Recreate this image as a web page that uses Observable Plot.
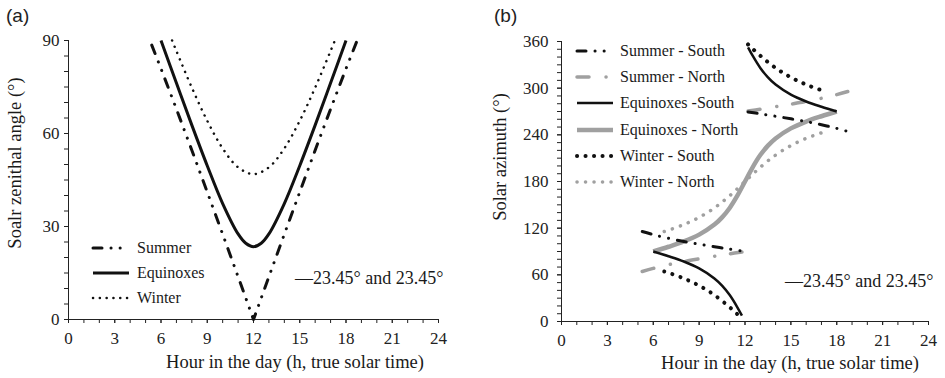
<!DOCTYPE html>
<html><head><meta charset="utf-8">
<script src="https://cdn.jsdelivr.net/npm/d3@7"></script>
<script src="https://cdn.jsdelivr.net/npm/@observablehq/plot@0.6"></script>
<style>
body{margin:0;background:#fff;}
#root{position:relative;width:945px;height:378px;overflow:hidden;font-family:"Liberation Serif","Times New Roman",serif;color:#1a1a1a;}
.abs{position:absolute;white-space:nowrap;line-height:1;}
svg{overflow:visible}
</style></head><body><div id="root"></div>
<script>
// ---------- Panel (a): solar zenithal angle ----------
const hoursSummerA = [5.4, 6, 7, 8, 9, 10, 11, 12, 13, 14, 15, 16, 17, 18, 18.7];
const zenithSummer = [88.5, 80.9, 67.9, 54.6, 41.1, 27.5, 13.8, 0, 13.8, 27.5, 41.1, 54.6, 67.9, 80.9, 89.7];
const hoursEquinoxA = [6, 7, 8, 9, 10, 11, 11.5, 12, 12.5, 13, 14, 15, 16, 17, 18];
const zenithEquinox = [90, 76.3, 62.7, 49.6, 37.4, 27.6, 24.6, 23.5, 24.6, 27.6, 37.4, 49.6, 62.7, 76.3, 90];
const hoursWinterA = [6.72, 7, 8, 9, 10, 11, 12, 13, 14, 15, 16, 17, 17.28];
const zenithWinter = [90, 86.6, 74.8, 64.1, 55.2, 49.1, 46.9, 49.1, 55.2, 64.1, 74.8, 86.6, 90];

// ---------- Panel (b): solar azimuth ----------
const hSumSouthAM = [5.28, 6, 7, 8, 9, 10, 11, 11.8];
const azSumSouthAM = [115.7, 111.7, 107.0, 102.9, 99.4, 96.1, 93.0, 90.6];
const hSumSouthPM = [12.2, 13, 14, 15, 16, 17, 18, 18.72];
const azSumSouthPM = [269.4, 267.0, 263.9, 260.6, 257.1, 253.0, 248.3, 244.3];

const hSumNorthAM = [5.28, 6, 7, 8, 9, 10, 11, 11.8];
const azSumNorthAM = [64.3, 68.3, 73.0, 77.1, 80.6, 83.9, 87.0, 89.4];
const hSumNorthPM = [12.2, 13, 14, 15, 16, 17, 18, 18.72];
const azSumNorthPM = [270.6, 273.0, 276.1, 279.4, 282.9, 287.0, 291.7, 295.7];

const hEqSouthAM = [6, 7, 8, 9, 10, 10.5, 11, 11.5, 11.8];
const azEqSouthAM = [90, 83.9, 77.1, 68.3, 55.4, 46.1, 34.0, 18.3, 7.5];
const hEqSouthPM = [12.2, 12.5, 13, 13.5, 14, 15, 16, 17, 18];
const azEqSouthPM = [352.5, 341.7, 326.0, 313.9, 304.6, 291.7, 282.9, 276.1, 270];

const hEqNorth = [6, 7, 8, 9, 10, 10.5, 11, 11.5, 12, 12.5, 13, 13.5, 14, 15, 16, 17, 18];
const azEqNorth = [90, 96.1, 102.9, 111.7, 124.6, 133.9, 146.0, 161.7, 180, 198.3, 214.0, 226.1, 235.4, 248.3, 257.1, 263.9, 270];

const hWinSouthAM = [6.72, 7, 8, 9, 10, 11, 11.5, 11.8];
const azWinSouthAM = [64.3, 62.6, 55.4, 46.1, 34.0, 18.3, 9.4, 3.8];
const hWinSouthPM = [12.2, 12.5, 13, 14, 15, 16, 17, 17.28];
const azWinSouthPM = [356.2, 350.6, 341.7, 326.0, 313.9, 304.6, 297.4, 295.7];

const hWinNorth = [6.72, 7, 8, 9, 10, 11, 12, 13, 14, 15, 16, 17, 17.28];
const azWinNorth = [115.7, 117.4, 124.6, 133.9, 146.0, 161.7, 180, 198.3, 214.0, 226.1, 235.4, 242.6, 244.3];

// ---------- Ticks & labels ----------
const xMajorTicks = [0, 3, 6, 9, 12, 15, 18, 21, 24];
const yMajorTicksA = [0, 30, 60, 90];
const yMajorTicksB = [0, 60, 120, 180, 240, 300, 360];
const xTitle = "Hour in the day (h, true solar time)";
const yTitleA = "Soalr zenithal angle (°)";
const yTitleB = "Solar azimuth (°)";
const noteText = "—23.45° and 23.45°";
const legendA = ["Summer", "Equinoxes", "Winter"];
const legendB = ["Summer - South", "Summer - North", "Equinoxes -South", "Equinoxes - North", "Winter - South", "Winter - North"];

// ---------- styles ----------
const BLACK = "#111", GRAY = "#a0a0a0";
const S = {
  summerA:   {stroke: BLACK, strokeWidth: 3,   strokeDasharray: "9,9,0.1,9,0.1,9", strokeLinecap: "round"},
  equinoxA:  {stroke: BLACK, strokeWidth: 3,   strokeDasharray: null, strokeLinecap: "butt"},
  winterA:   {stroke: BLACK, strokeWidth: 2.5, strokeDasharray: "0.1,6.7", strokeLinecap: "round"},
  sumSouth:  {stroke: BLACK, strokeWidth: 3,   strokeDasharray: "9,9,0.1,9,0.1,9", strokeLinecap: "round"},
  sumNorth:  {stroke: GRAY,  strokeWidth: 3.5, strokeDasharray: "12,17,0.1,16", strokeLinecap: "round"},
  eqSouth:   {stroke: BLACK, strokeWidth: 2.5, strokeDasharray: null, strokeLinecap: "butt"},
  eqNorth:   {stroke: GRAY,  strokeWidth: 4.5, strokeDasharray: null, strokeLinecap: "butt"},
  winSouth:  {stroke: BLACK, strokeWidth: 4,   strokeDasharray: "0.1,8.4", strokeLinecap: "round"},
  winNorth:  {stroke: GRAY,  strokeWidth: 3.5, strokeDasharray: "0.1,8.4", strokeLinecap: "round"}
};

const rows = (hs, vs) => hs.map((h, i) => ({h, v: vs[i]}));
const lineMark = (data, st, curve = "catmull-rom") => Plot.line(data, {x: "h", y: "v", curve, ...Object.fromEntries(Object.entries(st).filter(([k, v]) => v != null))});

const axisMarks = (yMajor, yMinorStep, yMax, padY) => [
  Plot.axisX({ticks: d3.range(0, 25, 1), tickSize: 4, tickFormat: () => "", label: null}),
  Plot.axisX({ticks: xMajorTicks, tickSize: 4, tickPadding: 8, label: null, fontSize: 17}),
  Plot.axisY({ticks: d3.range(0, yMax + 0.1, yMinorStep), tickSize: 4, tickFormat: () => "", label: null}),
  Plot.axisY({ticks: yMajor, tickSize: 4, tickPadding: padY, label: null, fontSize: 17}),
  Plot.ruleX([0], {stroke: "#222"}),
  Plot.ruleY([0], {stroke: "#222"})
];

const commonStyle = {fontFamily: "'Liberation Serif','Times New Roman',serif", fontSize: "17px", color: "#222", background: "transparent", overflow: "visible"};

const plotA = Plot.plot({
  width: 470, height: 378,
  marginLeft: 68, marginRight: 32, marginTop: 40, marginBottom: 59,
  x: {domain: [0, 24]}, y: {domain: [0, 90]},
  style: commonStyle,
  marks: [
    ...axisMarks(yMajorTicksA, 5, 90, 5),
    lineMark(rows(hoursWinterA, zenithWinter), S.winterA),
    lineMark(rows(hoursEquinoxA, zenithEquinox), S.equinoxA),
    lineMark(rows(hoursSummerA, zenithSummer), S.summerA, "linear")
  ]
});

const plotB = Plot.plot({
  width: 475, height: 378,
  marginLeft: 91, marginRight: 17, marginTop: 41, marginBottom: 57,
  x: {domain: [0, 24]}, y: {domain: [0, 360]},
  style: commonStyle,
  marks: [
    ...axisMarks(yMajorTicksB, 10, 360, 9),
    lineMark(rows(hEqNorth, azEqNorth), S.eqNorth),
    lineMark(rows(hWinNorth, azWinNorth), S.winNorth),
    lineMark(rows(hSumNorthAM, azSumNorthAM), S.sumNorth),
    lineMark(rows(hSumNorthPM, azSumNorthPM), S.sumNorth),
    lineMark(rows(hEqSouthAM, azEqSouthAM), S.eqSouth),
    lineMark(rows(hEqSouthPM, azEqSouthPM), S.eqSouth),
    lineMark(rows(hWinSouthAM, azWinSouthAM), S.winSouth),
    lineMark(rows(hWinSouthPM, azWinSouthPM), S.winSouth),
    lineMark(rows(hSumSouthAM, azSumSouthAM), S.sumSouth),
    lineMark(rows(hSumSouthPM, azSumSouthPM), S.sumSouth)
  ]
});

const root = document.getElementById("root");
function place(el, left, top) { el.style.position = "absolute"; el.style.left = left + "px"; el.style.top = top + "px"; root.appendChild(el); }
place(plotA, 0, 0);
place(plotB, 470, 0);

function text(str, left, top, css = {}) {
  const d = document.createElement("div");
  d.className = "abs"; d.textContent = str;
  d.style.left = left + "px"; d.style.top = top + "px";
  Object.assign(d.style, css);
  root.appendChild(d);
  return d;
}
// panel letters
text("(a)", 6, 6, {fontFamily: "'Liberation Sans',Arial,sans-serif", fontSize: "19px", color: "#222"});
text("(b)", 494, 6, {fontFamily: "'Liberation Sans',Arial,sans-serif", fontSize: "19px", color: "#222"});
// axis titles
text(xTitle, 295, 362, {fontSize: "18.5px", transform: "translate(-50%,-50%)"});
text(xTitle, 790, 363, {fontSize: "18.5px", transform: "translate(-50%,-50%)"});
text(yTitleA, 15, 163, {fontSize: "18.5px", transform: "translate(-50%,-50%) rotate(-90deg)"});
text(yTitleB, 500, 157, {fontSize: "18.5px", transform: "translate(-50%,-50%) rotate(-90deg)"});
// annotations
text(noteText, 295, 278, {fontSize: "18px", transform: "translateY(-50%)"});
text(noteText, 785, 281, {fontSize: "18px", transform: "translateY(-50%)"});

// legends
const NS = "http://www.w3.org/2000/svg";
function swatch(st, left, cy) {
  const svg = document.createElementNS(NS, "svg");
  svg.setAttribute("width", 40); svg.setAttribute("height", 12);
  const ln = document.createElementNS(NS, "line");
  ln.setAttribute("x1", 2); ln.setAttribute("x2", 38); ln.setAttribute("y1", 6); ln.setAttribute("y2", 6);
  ln.setAttribute("stroke", st.stroke); ln.setAttribute("stroke-width", st.strokeWidth);
  if (st.strokeDasharray) ln.setAttribute("stroke-dasharray", st.strokeDasharray);
  ln.setAttribute("stroke-linecap", st.strokeLinecap || "butt");
  svg.appendChild(ln);
  svg.style.position = "absolute"; svg.style.left = left + "px"; svg.style.top = (cy - 6) + "px";
  root.appendChild(svg);
}
const legAStyles = [S.summerA, S.equinoxA, S.winterA];
const legAY = [248, 273, 298];
legendA.forEach((lab, i) => { swatch(legAStyles[i], 91, legAY[i]); text(lab, 137, legAY[i], {fontSize: "16px", transform: "translateY(-50%)"}); });
const legBStyles = [S.sumSouth, S.sumNorth, S.eqSouth, S.eqNorth, S.winSouth, S.winNorth];
const legBY = [51, 77, 103, 129.5, 156, 182];
legendB.forEach((lab, i) => { swatch(legBStyles[i], 575, legBY[i]); text(lab, 620, legBY[i], {fontSize: "16px", transform: "translateY(-50%)"}); });
</script>
</body></html>
